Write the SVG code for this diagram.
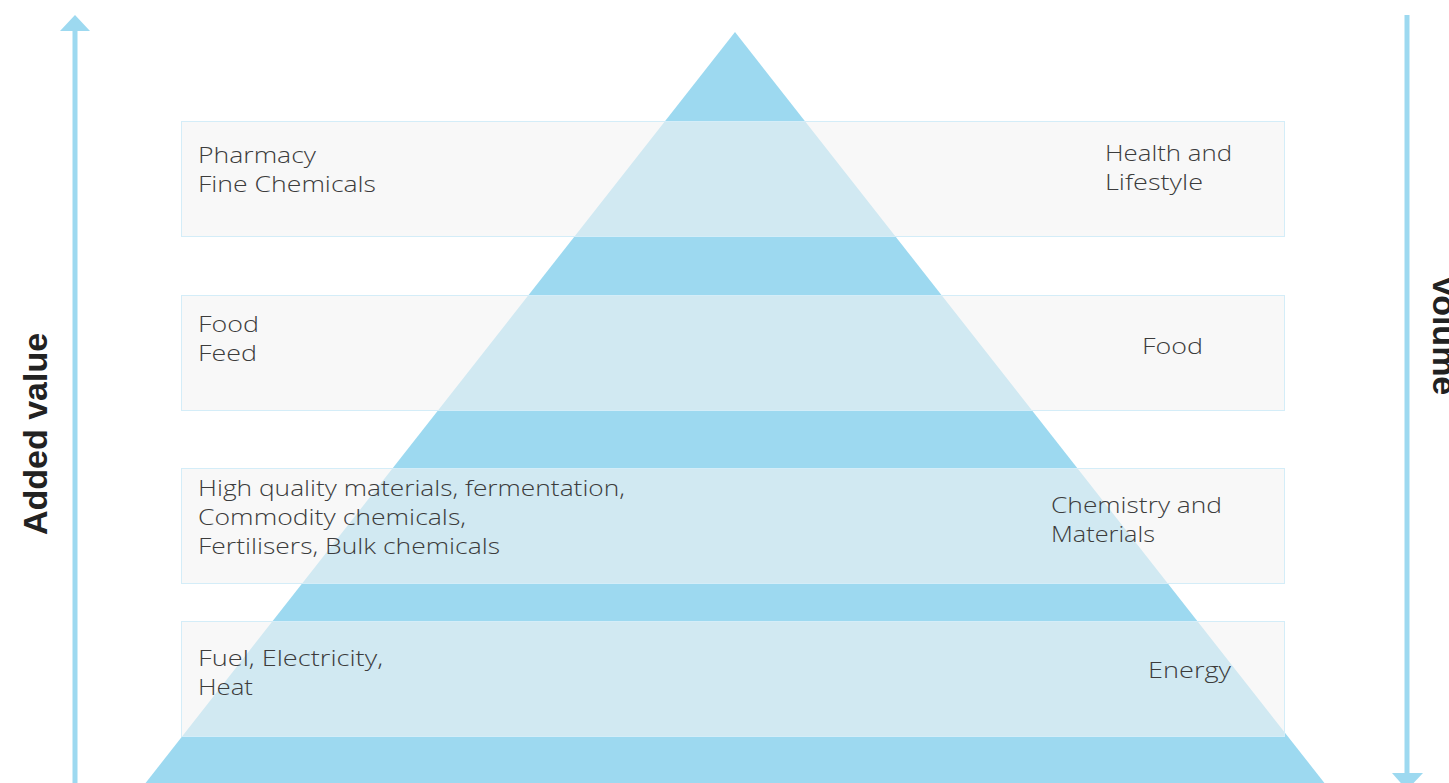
<svg xmlns="http://www.w3.org/2000/svg" width="1449" height="783" viewBox="0 0 1449 783">
<style>
.band{fill:#f4f4f4;fill-opacity:0.6;stroke:#d4edf8;stroke-width:1}
.t{font-family:"Open Sans","Lato","Liberation Sans",sans-serif;font-weight:300;font-size:22px;fill:#3c3c3c}
.ax{font-family:"Liberation Sans",Arial,sans-serif;font-weight:bold;font-size:34px;fill:#222}
</style>
<rect width="1449" height="783" fill="#fff"/>
<g id="pyramid"><polygon points="735,32 1326,785 144,785" fill="#9dd9f0"/></g>
<g id="band1"><rect class="band" x="181.5" y="121.5" width="1103" height="115"/>
<text class="t" x="198" y="163" textLength="118" lengthAdjust="spacingAndGlyphs">Pharmacy</text><text class="t" x="198" y="192" textLength="178" lengthAdjust="spacingAndGlyphs">Fine Chemicals</text>
<text class="t" x="1105" y="161" textLength="127" lengthAdjust="spacingAndGlyphs">Health and</text><text class="t" x="1105" y="190" textLength="98" lengthAdjust="spacingAndGlyphs">Lifestyle</text></g>
<g id="band2"><rect class="band" x="181.5" y="295.5" width="1103" height="115"/>
<text class="t" x="198" y="332" textLength="61" lengthAdjust="spacingAndGlyphs">Food</text><text class="t" x="198" y="361" textLength="59" lengthAdjust="spacingAndGlyphs">Feed</text>
<text class="t" x="1142" y="354" textLength="61" lengthAdjust="spacingAndGlyphs">Food</text></g>
<g id="band3"><rect class="band" x="181.5" y="468.5" width="1103" height="115"/>
<text class="t" x="198" y="496" textLength="427" lengthAdjust="spacingAndGlyphs">High quality materials, fermentation,</text>
<text class="t" x="198" y="525" textLength="268" lengthAdjust="spacingAndGlyphs">Commodity chemicals,</text>
<text class="t" x="198" y="554" textLength="302" lengthAdjust="spacingAndGlyphs">Fertilisers, Bulk chemicals</text>
<text class="t" x="1051" y="513" textLength="171" lengthAdjust="spacingAndGlyphs">Chemistry and</text><text class="t" x="1051" y="542" textLength="104" lengthAdjust="spacingAndGlyphs">Materials</text></g>
<g id="band4"><rect class="band" x="181.5" y="621.5" width="1103" height="115"/>
<text class="t" x="198" y="666" textLength="185" lengthAdjust="spacingAndGlyphs">Fuel, Electricity,</text><text class="t" x="198" y="695" textLength="55" lengthAdjust="spacingAndGlyphs">Heat</text>
<text class="t" x="1148" y="678" textLength="83" lengthAdjust="spacingAndGlyphs">Energy</text></g>
<g id="connectors">
<line x1="75" y1="30" x2="75" y2="783" stroke="#9dd9f0" stroke-width="5"/>
<polygon points="75,15 90,31 60,31" fill="#9dd9f0"/>
<line x1="1407" y1="15" x2="1407" y2="775" stroke="#9dd9f0" stroke-width="5"/>
<polygon points="1392,773 1423,773 1407,790" fill="#9dd9f0"/>
</g>
<g id="axis-left"><text class="ax" transform="translate(47,434) rotate(-90)" text-anchor="middle">Added value</text></g>
<g id="axis-right"><text class="ax" transform="translate(1433,275) rotate(90)">Volume</text></g>
</svg>
